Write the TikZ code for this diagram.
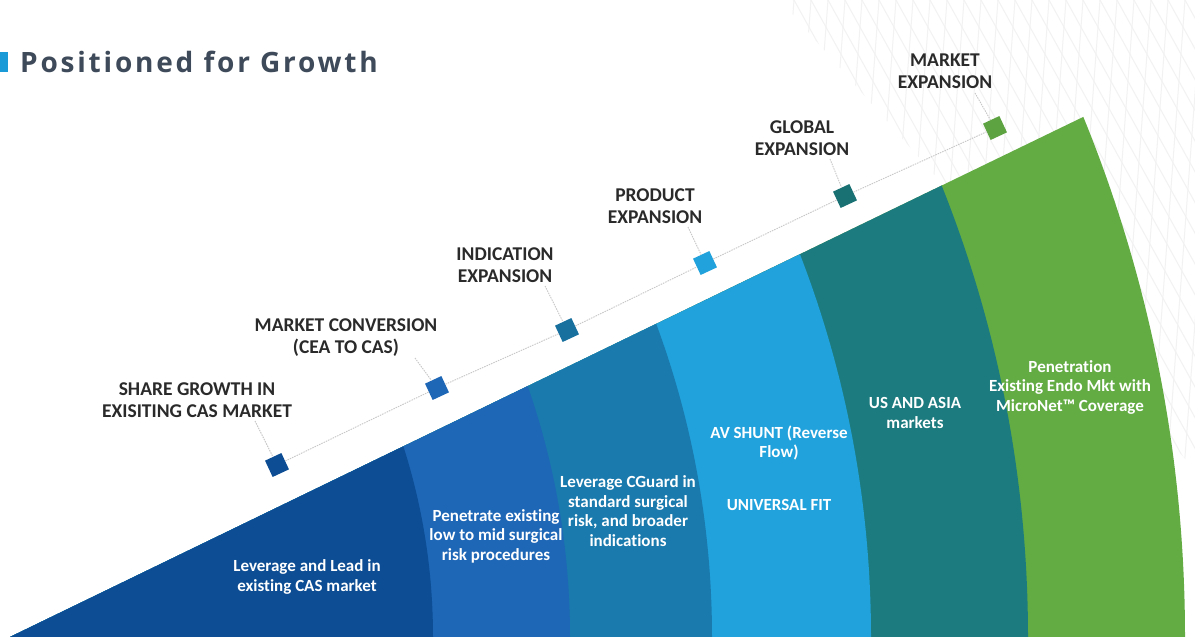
\documentclass[tikz,border=0pt]{standalone}
\usepackage{fontspec}
\setmainfont[Ligatures=NoCommon]{Carlito}
\newfontfamily\titlefont[LetterSpace=10]{Open Sans}
\definecolor{cnavy}{HTML}{0C4D93}
\definecolor{cblue}{HTML}{1E66B6}
\definecolor{ctealblue}{HTML}{1A7AAD}
\definecolor{clight}{HTML}{21A2DC}
\definecolor{cteal}{HTML}{1C7B7E}
\definecolor{cgreen}{HTML}{63AC44}
\definecolor{titleblue}{HTML}{1A9AD6}
\definecolor{titlegray}{HTML}{3E4A59}
\definecolor{lblc}{HTML}{2A2A2A}
\tikzset{
  bandtext/.style={align=center, text=white, inner sep=0pt, font=\bfseries\fontsize{17}{19.5}\selectfont},
  lbl/.style={align=center, text=lblc, inner sep=0pt, font=\bfseries\fontsize{19.5}{22}\selectfont},
  sq/.style={minimum size=18pt, inner sep=0pt, rotate=25},
  dotline/.style={draw=black!22, line width=0.9pt, dash pattern=on 1.5pt off 1pt},
  leader/.style={draw=black!22, line width=0.9pt, dash pattern=on 1.5pt off 1pt},
  gridline/.style={draw=black!5, line width=1pt}
}
\begin{document}
\begin{tikzpicture}[x=1pt,y=-1pt]
\useasboundingbox (0,0) rectangle (1195,637);
\fill[white] (0,0) rectangle (1195,637);

% faint background grid, top right
\begin{scope}
  \clip (780,0) -- (1195,0) -- (1195,470) -- cycle;
  \foreach \i in {0,...,30} {
    \draw[gridline] ({760+\i*17},0) -- ++(-35,470);
    \draw[gridline] ({760+\i*17},0) -- ++(260,470);
  }
\end{scope}

% bands
\coordinate (C) at (-191,637);
\begin{scope}
  \clip (10,637) -- (1405,-39) -- (1405,637) -- cycle;
  \fill[cgreen] (C) circle[radius=1376pt];
  \fill[cteal] (C) circle[radius=1219pt];
  \fill[clight] (C) circle[radius=1062pt];
  \fill[ctealblue] (C) circle[radius=903pt];
  \fill[cblue] (C) circle[radius=761pt];
  \fill[cnavy] (C) circle[radius=624pt];
\end{scope}

% title
\node[fill=titleblue, minimum width=8pt, minimum height=20pt, inner sep=0pt, anchor=north west] (tb) at (0,52) {};
\node[anchor=base west, inner sep=0pt, text=titlegray, font=\titlefont\bfseries\fontsize{28}{30}\selectfont] (title) at (20,72) {Positioned for Growth};

% band texts
\node[bandtext] (b1) at (307,577) {Leverage and Lead in\\existing CAS market};
\node[bandtext] (b2) at (496,536) {Penetrate existing\\low to mid surgical\\risk procedures};
\node[bandtext] (b3) at (628,511) {Leverage CGuard in\\standard surgical\\risk, and broader\\indications};
\node[bandtext] (b4) at (779,443) {AV SHUNT (Reverse\\Flow)};
\node[bandtext] (b5) at (779,505) {UNIVERSAL FIT};
\node[bandtext] (b6) at (915,413) {US AND ASIA\\markets};
\node[bandtext] (b7) at (1070,387) {Penetration\\Existing Endo Mkt with\\MicroNet™ Coverage};

% milestone squares
\node[sq, fill=cnavy] (s1) at (277,465) {};
\node[sq, fill=cblue] (s2) at (437,388) {};
\node[sq, fill=ctealblue!92!black] (s3) at (567,330) {};
\node[sq, fill=clight] (s4) at (705,263) {};
\node[sq, fill=cteal!92!black] (s5) at (845,196) {};
\node[sq, fill=cgreen!95!black] (s6) at (995,128) {};

\draw[dotline] (s1) -- (s2);
\draw[dotline] (s2) -- (s3);
\draw[dotline] (s3) -- (s4);
\draw[dotline] (s4) -- (s5);
\draw[dotline] (s5) -- (s6);

% labels
\node[lbl] (l1) at (197,400) {SHARE GROWTH IN\\EXISITING CAS MARKET};
\node[lbl] (l2) at (346,338) {MARKET CONVERSION\\(CEA TO CAS)};
\node[lbl] (l3) at (505,265) {INDICATION\\EXPANSION};
\node[lbl] (l4) at (655,206) {PRODUCT\\EXPANSION};
\node[lbl] (l5) at (802,138) {GLOBAL\\EXPANSION};
\node[lbl] (l6) at (945,71) {MARKET\\EXPANSION};

% leader lines
\coordinate (t1) at (255,421);
\coordinate (t2) at (415,358);
\coordinate (t3) at (545,286);
\coordinate (t4) at (688,227);
\coordinate (t5) at (830,159);
\coordinate (t6) at (975,93);
\draw[leader] (t1) -- (s1);
\draw[leader] (t2) -- (s2);
\draw[leader] (t3) -- (s3);
\draw[leader] (t4) -- (s4);
\draw[leader] (t5) -- (s5);
\draw[leader] (t6) -- (s6);
\end{tikzpicture}
\end{document}
